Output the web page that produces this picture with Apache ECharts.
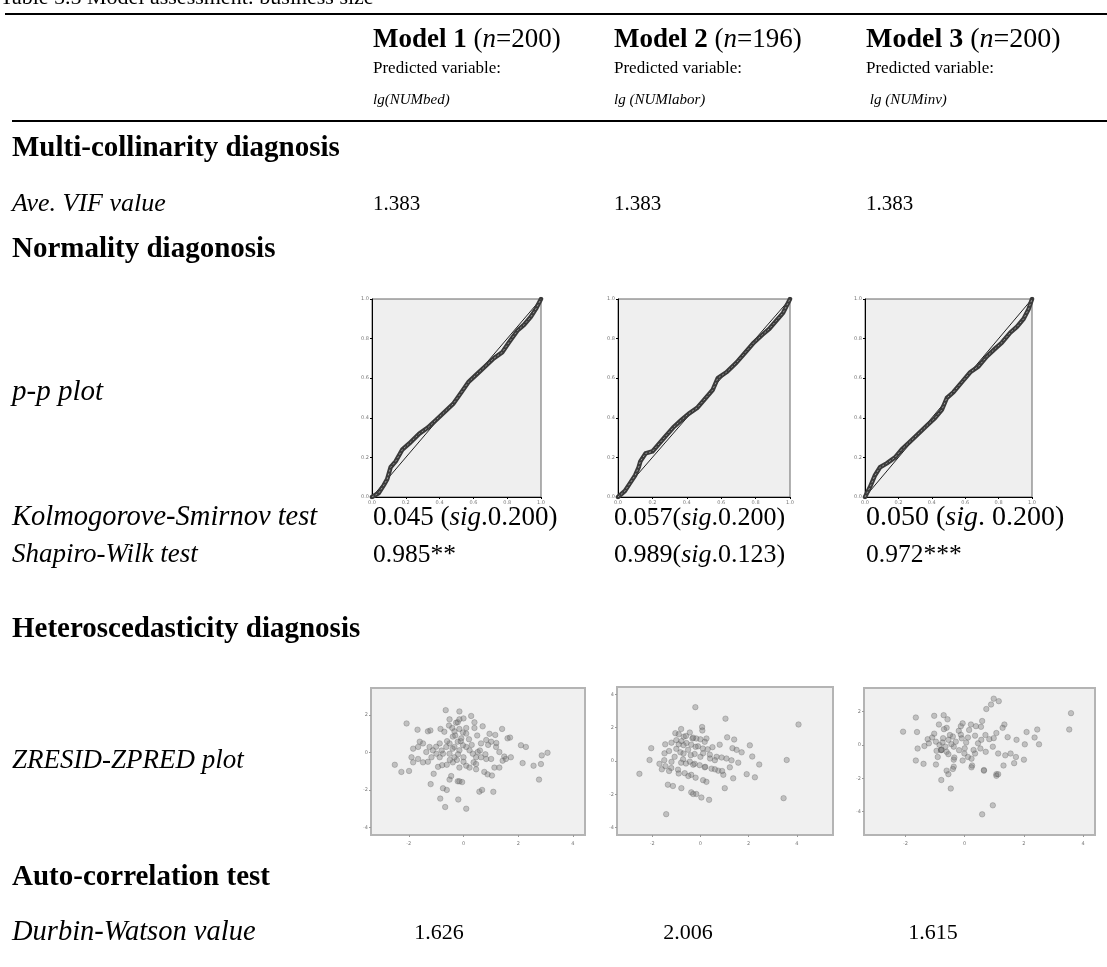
<!DOCTYPE html>
<html><head><meta charset="utf-8">
<script src="https://cdn.jsdelivr.net/npm/echarts@6/dist/echarts.min.js"></script>
<style>html,body{margin:0;padding:0;background:#fff}#c{width:1107px;height:967px}</style>
</head><body><div id="c"></div>
<script>
// ---------- table text ----------
const titleText = 'Table 5.5 Model assessment: business size';
const modelNames = ['Model 1', 'Model 2', 'Model 3'];
const sampleSizes = ['200', '196', '200'];
const predictedVars = ['lg(NUMbed)', 'lg (NUMlabor)', ' lg (NUMinv)'];
const sectionTitles = ['Multi-collinarity diagnosis', 'Normality diagonosis', 'Heteroscedasticity diagnosis', 'Auto-correlation test'];
const rowLabels = ['Ave. VIF value', 'p-p plot', 'Kolmogorove-Smirnov test', 'Shapiro-Wilk test', 'ZRESID-ZPRED plot', 'Durbin-Watson value'];
const vifValues = ['1.383', '1.383', '1.383'];
const ksValues = ['0.045 ({i|sig}.0.200)', '0.057({i|sig}.0.200)', '0.050 ({i|sig}. 0.200)'];
const swValues = ['0.985**', '0.989({i|sig}.0.123)', '0.972***'];
const dwValues = ['1.626', '2.006', '1.615'];

// ---------- p-p plots (expected cum prob, observed cum prob) ----------
const ppTicks = [0, 0.2, 0.4, 0.6, 0.8, 1.0];
const pp1 = [[0,0],[0.04,0.02],[0.07,0.06],[0.09,0.09],[0.11,0.15],[0.14,0.18],[0.18,0.24],[0.22,0.27],[0.28,0.32],[0.33,0.35],[0.38,0.39],[0.43,0.43],[0.48,0.47],[0.53,0.53],[0.57,0.58],[0.62,0.62],[0.67,0.66],[0.72,0.70],[0.77,0.73],[0.81,0.78],[0.86,0.84],[0.90,0.87],[0.94,0.91],[0.97,0.95],[1,1]];
const pp2 = [[0,0],[0.04,0.03],[0.07,0.07],[0.10,0.11],[0.12,0.15],[0.13,0.18],[0.16,0.22],[0.20,0.23],[0.23,0.26],[0.27,0.30],[0.32,0.35],[0.37,0.39],[0.41,0.42],[0.46,0.45],[0.51,0.50],[0.55,0.54],[0.58,0.60],[0.63,0.63],[0.69,0.68],[0.74,0.73],[0.79,0.78],[0.84,0.82],[0.88,0.85],[0.92,0.89],[0.96,0.93],[1,1]];
const pp3 = [[0,0],[0.03,0.05],[0.06,0.11],[0.09,0.15],[0.13,0.17],[0.18,0.20],[0.22,0.24],[0.27,0.28],[0.32,0.32],[0.37,0.36],[0.42,0.40],[0.46,0.44],[0.49,0.50],[0.53,0.53],[0.58,0.58],[0.63,0.63],[0.68,0.66],[0.73,0.71],[0.78,0.75],[0.82,0.78],[0.87,0.83],[0.91,0.86],[0.95,0.90],[0.98,0.95],[1,1]];
const ppDiagonal = [[0,0],[1,1]];

// ---------- ZRESID vs ZPRED scatter ----------
const zTicksX = [-2, 0, 2, 4];
const zTicksY1 = [-4, -2, 0, 2];
const zTicksY2 = [-4, -2, 0, 2, 4];
const zTicksY3 = [-4, -2, 0, 2];
const resid1 = [[-0.65,2.25],[-0.15,2.18],[-2.08,1.54],[-1.68,1.21],[-1.30,1.12],[-1.21,1.17],[-0.84,1.25],[-0.51,1.76],[-0.27,1.58],[-0.21,1.61],[-0.15,1.76],[0,1.81],[0.28,1.94],[-0.53,1.43],[-0.41,1.30],[-0.33,1.12],[-0.15,1.25],[-0.02,1.06],[0.10,1.30],[0.40,1.30],[0.70,1.39],[0.95,0.99],[1.16,0.93],[1.41,1.25],[1.61,0.75],[1.70,0.79],[2.10,0.38],[2.28,0.29],[2.86,-0.16],[3.07,-0.02],[2.83,-0.62],[2.56,-0.71],[2.16,-0.57],[1.73,-0.26],[1.49,-0.22],[1.31,0.02],[1.19,0.29],[1.01,0.57],[0.83,0.66],[0.64,0.48],[0.52,0.02],[0.46,-0.26],[0.34,-0.07],[0.22,0.11],[0.10,0.29],[-0.08,0.75],[-0.21,0.57],[-0.39,0.84],[-0.51,0.48],[-0.63,0.29],[-0.75,-0.07],[-0.87,-0.26],[-0.99,-0.07],[-1.12,0.11],[-1.24,0.29],[-1.36,0.02],[-1.48,0.48],[-1.60,0.57],[-1.66,0.29],[-1.84,0.20],[-1.90,-0.26],[-1.66,-0.35],[-1.48,-0.53],[-1.84,-0.53],[-2.51,-0.66],[-2.27,-1.04],[-1.99,-0.99],[-1.09,-1.14],[-0.93,-0.77],[-0.78,-0.68],[-0.61,-0.66],[-0.39,-0.53],[-0.24,-0.40],[-0.15,-0.81],[0.10,-0.71],[0.22,-0.81],[0.46,-0.90],[0.76,-1.04],[0.88,-1.17],[1.04,-1.23],[1.13,-0.81],[1.31,-0.81],[1.43,-0.44],[1.55,-0.35],[1.01,-0.35],[0.83,-0.35],[0.64,-0.26],[0.37,-0.53],[0,-0.26],[-0.33,-0.26],[-0.51,-0.07],[-0.15,0.11],[-0.02,0.38],[-0.33,0.29],[-0.87,0.48],[-1.17,-0.26],[-1.20,-1.69],[-0.75,-1.91],[-0.61,-2.00],[-0.21,-1.54],[-0.05,-1.58],[0.58,-2.09],[0.68,-2.00],[1.09,-2.10],[0.46,-0.62],[-0.85,-2.46],[-0.67,-2.91],[-0.19,-2.51],[0.10,-3.00],[2.76,-1.45],[-0.51,-1.45],[-0.15,-1.54],[-0.45,-1.26],[-0.30,0.90],[-0.10,0.60],[0.20,0.70],[-0.60,0.60],[0.10,1.00],[-0.40,0.20],[0.30,0.40],[-0.80,0.10],[0.60,0.10],[-0.20,-0.10],[0.50,0.90],[-1.00,0.30],[0.80,-0.10],[-0.50,-0.40],[0.00,-0.50],[1.20,0.50],[-1.30,-0.50],[0.90,0.40],[-0.70,1.10],[0.40,1.60]];
const resid2 = [[-0.21,3.23],[1.04,2.54],[4.07,2.19],[0.07,2.04],[-0.80,1.92],[-0.44,1.71],[-1.04,1.67],[0.08,1.83],[-0.69,1.46],[-0.33,1.35],[-0.17,1.35],[0.25,1.35],[1.11,1.42],[1.40,1.29],[-2.04,0.77],[-1.46,1.00],[-1.00,1.25],[-0.79,1.19],[-0.58,1.08],[-0.38,0.98],[-0.10,0.88],[0.18,1.15],[0.50,0.83],[0.80,0.98],[1.33,0.77],[1.50,0.67],[1.71,0.52],[2.05,0.94],[-2.11,0.06],[-1.49,0.46],[-1.00,0.73],[-0.83,0.52],[-0.51,0.67],[-0.24,0.42],[0.11,0.46],[0.39,0.38],[0.67,0.25],[0.88,0.21],[1.08,0.15],[1.29,0.04],[1.57,-0.10],[2.15,0.27],[2.44,-0.21],[3.58,0.06],[-1.07,0.25],[-0.72,0.10],[-0.44,-0.04],[-0.24,-0.17],[-0.03,-0.25],[0.18,-0.38],[0.46,-0.46],[0.74,-0.58],[0.95,-0.83],[1.22,-0.38],[1.36,-1.04],[1.92,-0.79],[2.26,-0.98],[-1.70,-0.17],[-1.45,-0.31],[-1.21,-0.42],[-0.93,-0.52],[-0.65,-0.73],[-0.38,-0.83],[0.11,-1.15],[0.25,-1.25],[-2.53,-0.77],[1.01,-1.63],[-1.35,-1.42],[-1.14,-1.50],[-0.79,-1.63],[-0.38,-1.88],[-0.17,-1.98],[-1.42,-3.19],[3.45,-2.23],[0.36,-2.33],[0.04,-2.19],[-0.30,-1.98],[-0.90,1.60],[-0.60,1.50],[-0.30,1.40],[0.00,1.30],[-1.20,1.10],[-0.90,1.00],[-0.70,0.95],[-0.20,0.85],[0.10,0.75],[0.30,0.70],[-1.30,0.60],[-0.70,0.45],[-0.40,0.35],[0.00,0.25],[0.40,0.15],[0.60,0.05],[-1.50,0.05],[-1.20,-0.05],[-0.80,-0.10],[-0.60,-0.15],[-0.30,-0.22],[0.20,-0.35],[0.60,-0.50],[0.90,-0.60],[-1.60,-0.50],[-1.30,-0.60],[-0.90,-0.75],[-0.50,-0.90],[-0.20,-1.00]];
const resid3 = [[0.98,2.78],[1.15,2.63],[0.89,2.43],[0.73,2.16],[3.59,1.91],[3.53,0.93],[-1.65,1.65],[-1.03,1.75],[-0.71,1.79],[-0.58,1.54],[-2.08,0.80],[-1.61,0.78],[-1.03,0.68],[-0.87,1.23],[-0.61,1.03],[-0.13,1.13],[-0.07,1.30],[0.21,1.23],[0.38,1.13],[0.59,1.44],[0.55,1.09],[1.34,1.23],[1.28,1.03],[2.09,0.78],[2.45,0.93],[2.36,0.45],[2.51,0.04],[2.03,0.04],[1.75,0.31],[1.45,0.47],[1.07,0.72],[0.98,0.41],[0.83,0.35],[0.56,0.31],[0.35,0.56],[0.11,0.45],[-0.13,0.62],[-0.40,0.51],[-0.55,0.31],[-0.73,0.41],[-0.97,0.20],[-1.21,0.10],[-1.36,-0.06],[-1.59,-0.21],[-1.65,-0.93],[-1.39,-1.13],[-0.97,-1.17],[-0.91,-0.72],[-0.79,-0.31],[-0.61,-0.41],[-0.37,-0.10],[-0.19,-0.31],[-0.01,-0.51],[0.11,-0.72],[0.23,-0.82],[0.35,-0.51],[0.53,-0.21],[0.71,-0.41],[0.95,-0.10],[1.13,-0.51],[1.37,-0.62],[1.55,-0.51],[1.73,-0.72],[1.67,-1.09],[2.00,-0.88],[1.31,-1.23],[1.07,-1.75],[0.65,-1.50],[0.25,-1.23],[-0.07,-0.93],[-0.37,-0.88],[-0.37,-1.30],[-0.61,-1.54],[-0.79,-2.10],[-0.47,-2.61],[0.95,-3.62],[0.59,-4.16],[1.07,-1.85],[1.13,-1.75],[0.65,-1.54],[0.23,-1.34],[-0.55,-1.75],[-0.40,-1.44],[-0.85,0.00],[-0.75,0.15],[-0.65,-0.10],[-0.50,0.60],[-0.45,0.05],[-0.30,0.20],[-0.20,0.85],[-0.10,0.40],[0.00,-0.20],[0.15,0.90],[0.30,-0.30],[-1.10,0.45],[-1.25,0.35],[-0.95,-0.35],[-0.70,0.95],[0.45,0.10],[0.70,0.60],[-0.55,-0.55],[0.05,0.15],[-0.35,-0.75],[-0.80,-0.30],[-0.78,-0.28]];

// ---------- layout ----------
const FONT = '"Liberation Serif","Times New Roman",serif';
const colX = [373, 614, 866];
const dwX = [439, 688, 933];
const labelX = 12;
const headSize = [27, 27, 28];
const labelSize = [26, 29, 28.5, 27, 27, 28.5];
const ksSize = [27, 26, 28];
const swSize = [25.5, 26, 25.5];
const ppGrids = [
  {left: 372, top: 299, width: 169, height: 198},
  {left: 618, top: 299, width: 172, height: 198},
  {left: 865, top: 299, width: 167, height: 198}
];
const scGrids = [
  {left: 371, top: 688, width: 214, height: 147, xr: [-3.38, 4.44], yr: [-4.4, 3.43], yt: zTicksY1},
  {left: 617, top: 687, width: 216, height: 148, xr: [-3.46, 5.5], yr: [-4.44, 4.44], yt: zTicksY2},
  {left: 864, top: 688, width: 231, height: 147, xr: [-3.4, 4.4], yr: [-5.4, 3.42], yt: zTicksY3}
];

const gfx = [];
function txt(x, y, text, font, opts) {
  gfx.push({type: 'text', x: x, y: y, silent: true,
    style: Object.assign({text: text, font: font, fill: '#000', align: 'left', verticalAlign: 'middle'}, opts || {})});
}
function hline(x1, x2, y, w) {
  gfx.push({type: 'line', silent: true, shape: {x1: x1, y1: y, x2: x2, y2: y}, style: {stroke: '#000', lineWidth: w}});
}
function richFor(size) {
  return {b: {font: 'bold ' + size + 'px ' + FONT, fill: '#000'}, i: {font: 'italic ' + size + 'px ' + FONT, fill: '#000'}};
}
// title (partly cut off at top)
txt(0, 9, titleText, '22px ' + FONT, {verticalAlign: 'bottom'});
hline(5, 1107, 14, 2);
hline(12, 1107, 121, 2);
for (let i = 0; i < 3; i++) {
  txt(colX[i], 40, '{b|' + modelNames[i] + '} ({i|n}=' + sampleSizes[i] + ')', headSize[i] + 'px ' + FONT,
    {rich: richFor(headSize[i])});
  txt(colX[i], 69, 'Predicted variable:', '17px ' + FONT);
  txt(colX[i], 100, predictedVars[i], 'italic 15px ' + FONT);
}
const secY = [149, 250, 630, 878];
sectionTitles.forEach((s, k) => txt(labelX, secY[k], s, 'bold 29px ' + FONT));
const rowY = [204, 392, 518, 555, 761, 933];
rowLabels.forEach((s, k) => txt(labelX, rowY[k], s, 'italic ' + labelSize[k] + 'px ' + FONT));
for (let i = 0; i < 3; i++) {
  txt(colX[i], rowY[0], vifValues[i], '21px ' + FONT);
  txt(colX[i], rowY[2], ksValues[i], ksSize[i] + 'px ' + FONT, {rich: richFor(ksSize[i])});
  txt(colX[i], rowY[3], swValues[i], swSize[i] + 'px ' + FONT, {rich: richFor(swSize[i])});
  txt(dwX[i], rowY[5], dwValues[i], '22px ' + FONT, {align: 'center'});
}

// ---------- grids / axes / series ----------
const grids = [], xAxes = [], yAxes = [], series = [];
const tinyLabel = {fontSize: 5, color: '#777', margin: 3, fontFamily: 'DejaVu Sans'};
const ppData = [pp1, pp2, pp3];
ppGrids.forEach((g, k) => {
  grids.push({left: g.left, top: g.top, width: g.width, height: g.height, show: true,
    backgroundColor: '#efefef', borderColor: '#666', borderWidth: 1});
  const ax = {type: 'value', gridIndex: k, min: 0, max: 1, interval: 0.2,
    axisLine: {show: true, onZero: false, lineStyle: {color: '#000', width: 1}},
    axisTick: {show: true, length: 2, lineStyle: {color: '#000', width: 1}},
    axisLabel: Object.assign({}, tinyLabel, {formatter: v => v.toFixed(1), customValues: ppTicks}),
    splitLine: {show: false}};
  xAxes.push(ax);
  yAxes.push(Object.assign({}, ax));
  series.push({type: 'line', xAxisIndex: k, yAxisIndex: k, data: ppDiagonal, symbol: 'none',
    lineStyle: {color: '#222', width: 1}, silent: true, z: 2});
  series.push({type: 'line', xAxisIndex: k, yAxisIndex: k, data: ppData[k], symbol: 'none',
    lineStyle: {color: '#3a3a3a', width: 4.5, cap: 'round', join: 'round'}, silent: true, z: 3});
  series.push({type: 'line', xAxisIndex: k, yAxisIndex: k, data: ppData[k], symbol: 'none',
    lineStyle: {color: '#9a9a9a', width: 1, type: [2, 2]}, silent: true, z: 4});
});
const residData = [resid1, resid2, resid3];
scGrids.forEach((g, j) => {
  const k = j + 3;
  grids.push({left: g.left, top: g.top, width: g.width, height: g.height, show: true,
    backgroundColor: '#f0f0f0', borderColor: '#b4b4b4', borderWidth: 2});
  const base = {type: 'value', gridIndex: k, splitLine: {show: false},
    axisLine: {show: true, onZero: false, lineStyle: {color: '#b4b4b4', width: 2}},
    axisTick: {show: true, length: 2, lineStyle: {color: '#999'}}};
  xAxes.push(Object.assign({}, base, {min: g.xr[0], max: g.xr[1],
    axisTick: Object.assign({}, base.axisTick, {customValues: zTicksX}),
    axisLabel: Object.assign({}, tinyLabel, {customValues: zTicksX, margin: 6})}));
  yAxes.push(Object.assign({}, base, {min: g.yr[0], max: g.yr[1],
    axisTick: Object.assign({}, base.axisTick, {customValues: g.yt}),
    axisLabel: Object.assign({}, tinyLabel, {customValues: g.yt})}));
  series.push({type: 'scatter', xAxisIndex: k, yAxisIndex: k, data: residData[j], symbolSize: 5.5, silent: true,
    itemStyle: {color: 'rgba(120,120,120,0.5)', borderColor: 'rgba(70,70,70,0.4)', borderWidth: 0.8}});
});

const chart = echarts.init(document.getElementById('c'), null, {renderer: 'canvas'});
chart.setOption({
  animation: false,
  backgroundColor: '#fff',
  grid: grids, xAxis: xAxes, yAxis: yAxes, series: series,
  graphic: gfx
});
</script></body></html>
